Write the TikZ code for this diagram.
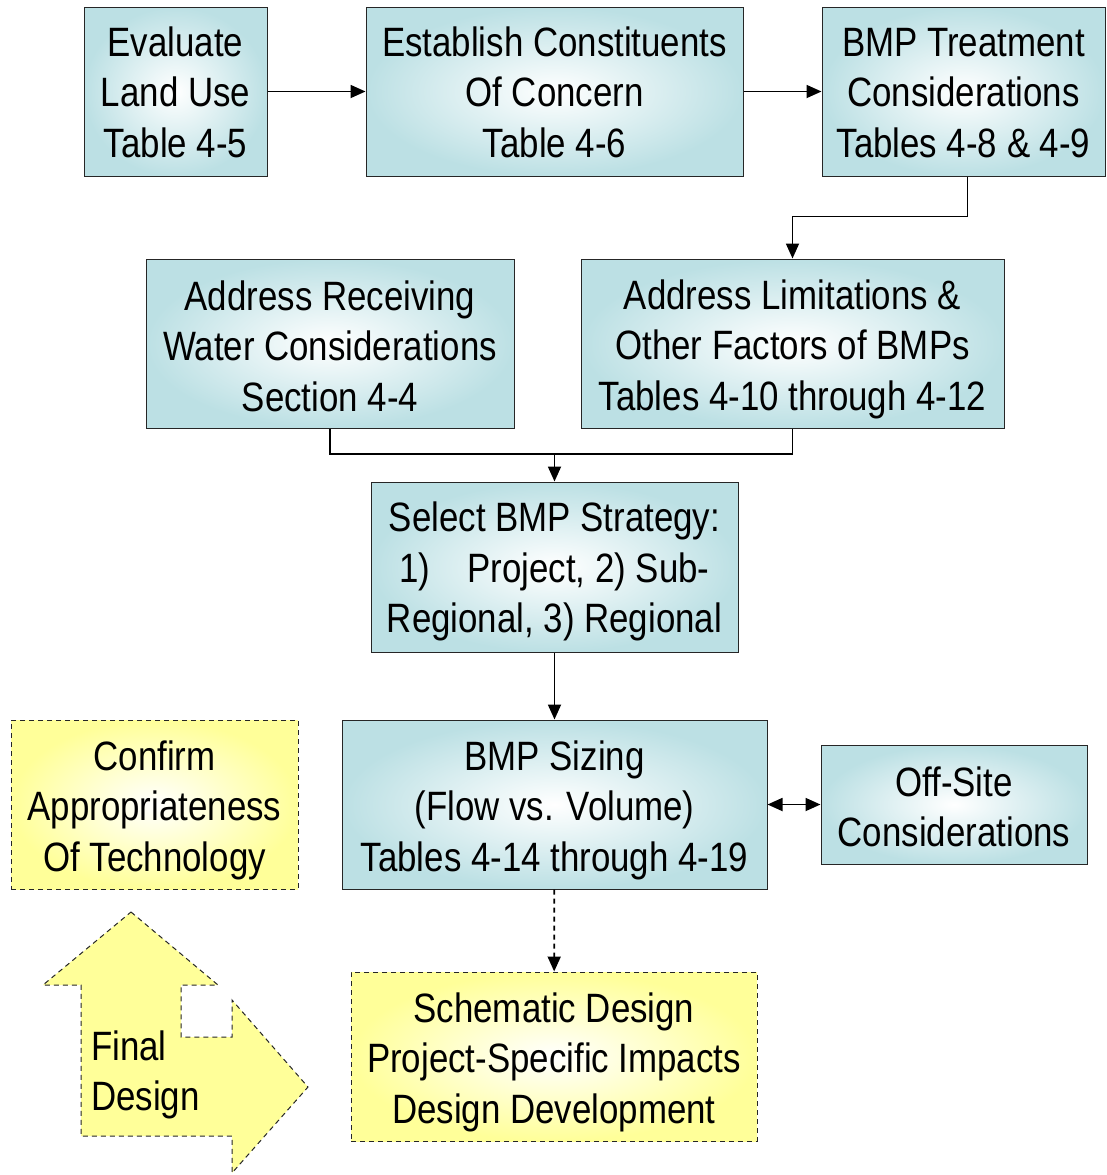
\documentclass[tikz,border=0pt]{standalone}
\usepackage{fontspec}
\setmainfont{Liberation Sans}[FakeStretch=0.85]
\usetikzlibrary{arrows.meta}
\definecolor{bmpcyan}{RGB}{188,224,228}
\definecolor{bmpyellow}{RGB}{255,255,153}
% lower a block of lines inside its box
\newcommand{\dropped}[2]{\raisebox{-#1}[\height][\depth]{\begin{tabular}{@{}c@{}}#2\end{tabular}}}

\begin{document}
\begin{tikzpicture}[x=1pt,y=-1pt,
	bmpnode/.style={rectangle,draw=black!85,line width=1pt,inner color=white,outer color=bmpcyan,inner sep=0pt,align=center,font=\fontsize{41}{50.5}\selectfont},
	notenode/.style={rectangle,draw=black!85,line width=1pt,dash pattern=on 5pt off 4pt,inner color=white,outer color=bmpyellow,inner sep=0pt,align=center,font=\fontsize{41}{50.5}\selectfont},
	link/.style={line width=1.8pt,-{Triangle[length=15pt,width=13pt]}},
	plainlink/.style={line width=1.8pt}
]
\useasboundingbox (0,0) rectangle (1107,1175);

% top row
\node[bmpnode,minimum width=183pt,minimum height=169pt] (landuse) at (175.5,91.5) {\dropped{5pt}{Evaluate\\Land Use\\Table 4-5}};
\node[bmpnode,minimum width=377pt,minimum height=169pt] (concern) at (554.5,91.5) {\dropped{5pt}{Establish Constituents\\Of Concern\\Table 4-6}};
\node[bmpnode,minimum width=283pt,minimum height=169pt] (treat) at (963.5,91.5) {\dropped{5pt}{BMP Treatment\\Considerations\\Tables 4-8 \& 4-9}};

% second row
\node[bmpnode,minimum width=368pt,minimum height=169pt] (receiving) at (330,343.5) {\dropped{7pt}{Address Receiving\\Water Considerations\\Section 4-4}};
\node[bmpnode,minimum width=423pt,minimum height=169pt] (limits) at (792.5,343.5) {\dropped{6pt}{Address Limitations \&\\Other Factors of BMPs\\Tables 4-10 through 4-12}};

% strategy and sizing
\node[bmpnode,minimum width=367pt,minimum height=170pt] (strategy) at (554.5,567) {\dropped{5pt}{Select BMP Strategy:\\1)\hspace{0.9em}Project, 2) Sub-\\Regional, 3) Regional}};
\node[bmpnode,minimum width=425pt,minimum height=169pt] (sizing) at (554.5,804.5) {\dropped{6pt}{BMP Sizing\\(Flow vs. Volume)\\Tables 4-14 through 4-19}};
\node[bmpnode,minimum width=266pt,minimum height=119pt] (offsite) at (954,804.5) {\dropped{7pt}{Off-Site\\Considerations}};

% yellow notes
\node[notenode,minimum width=287pt,minimum height=169pt] (confirm) at (154.5,804.5) {\dropped{6pt}{Confirm\\Appropriateness\\Of Technology}};
\node[notenode,minimum width=406pt,minimum height=169pt] (schematic) at (554,1056.5) {\dropped{6pt}{Schematic Design\\Project-Specific Impacts\\Design Development}};

% final design arrow
\draw[draw=black!85,line width=1pt,dash pattern=on 5pt off 4pt,fill=bmpyellow]
	(131,912) -- (218,985) -- (181,985) -- (181,1037) -- (232,1037) -- (232,1000)
	-- (308,1087) -- (232,1173) -- (232,1136) -- (81,1136) -- (81,985) -- (43,985) -- cycle;
\node[anchor=west,align=left,inner sep=0pt,font=\fontsize{41}{50.5}\selectfont] (finaltext) at (91,1075) {Final\\Design};

% connectors
\draw[link] (landuse) -- (concern);
\draw[link] (concern) -- (treat);
\draw[link] ([xshift=4pt]treat.south) -- ++(0,40) -| (limits.north);
\coordinate (merge) at (554.5,454);
\draw[plainlink] (receiving.south) |- (merge) -| (limits.south);
\draw[link] (merge) -- (strategy);
\draw[link] (strategy) -- (sizing);
\draw[line width=1.8pt,{Triangle[length=15pt,width=13pt]}-{Triangle[length=15pt,width=13pt]}] (sizing) -- (offsite);
\draw[link,dash pattern=on 5pt off 4pt] (sizing) -- (schematic);

\end{tikzpicture}
\end{document}
